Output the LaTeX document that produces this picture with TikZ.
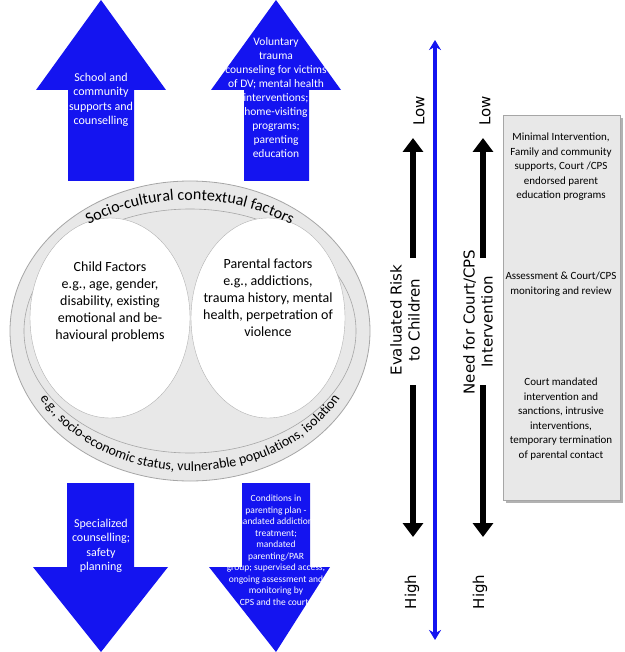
\documentclass[tikz,border=0pt]{standalone}
\usepackage{fontspec}
\setmainfont{Carlito}
\newfontfamily\dv{DejaVu Sans}
\usetikzlibrary{decorations.text,arrows.meta}
\definecolor{bl}{RGB}{20,20,240}
\begin{document}
\begin{tikzpicture}[x=1pt,y=-1pt,
  bigarrow/.style={fill=bl,draw=none},
  atext/.style={text=white,align=center,font=\fontsize{12}{14.5}\selectfont},
  stext/.style={text=white,align=center,font=\fontsize{9.5}{11.5}\selectfont},
  blk/.style={line width=6pt,-{Triangle[length=14pt,width=20pt]}},
  rt/.style={rotate=-90,font=\dv\fontsize{15}{18}\selectfont,align=center}]
\useasboundingbox (0,0) rectangle (624,652);
% up arrows
\fill[bigarrow] (101,0)--(166,90)--(134,90)--(134,181)--(68,181)--(68,90)--(36,90)--cycle;
\node[atext] (a1) at (101,100) {School and\\community\\supports and\\counselling};
\fill[bigarrow] (276,0)--(341,90)--(309,90)--(309,181)--(244,181)--(244,90)--(211,90)--cycle;
\node[atext,font=\fontsize{11.5}{14}\selectfont] (a2) at (276,98) {Voluntary\\trauma\\counseling for victims\\of DV; mental health\\interventions;\\home-visiting\\programs;\\parenting\\education};
% down arrows
\fill[bigarrow] (101,652)--(168,567)--(134,567)--(134,483)--(67,483)--(67,567)--(33,567)--cycle;
\node[atext] (a3) at (101,546) {Specialized\\counselling;\\safety\\planning};
\fill[bigarrow] (276,652)--(330,567)--(310,567)--(310,483)--(242,483)--(242,567)--(209,567)--cycle;
\node[stext] (a4) at (276,550) {Conditions in\\parenting plan -\\mandated addictions\\treatment;\\mandated\\parenting/PAR\\group; supervised access;\\ongoing assessment and\\monitoring by\\CPS and the courts};
% ellipses
\draw[gray!70,fill=gray!18,line width=0.8pt] (190,331) ellipse (180 and 150);
\draw[gray!70,fill=gray!18,line width=0.6pt] (190,331) ellipse (166 and 122);
\draw[gray!60,fill=white] (110,318) ellipse (80 and 100);
\draw[gray!60,fill=white] (268,318) ellipse (77 and 100);
\node[align=center,font=\fontsize{14}{17}\selectfont] (cf) at (110,302) {Child Factors\\e.g., age, gender,\\disability, existing\\emotional and be-\\havioural problems};
\node[align=center,font=\fontsize{14}{17}\selectfont] (pf) at (268,298) {Parental factors\\e.g., addictions,\\trauma history, mental\\health, perpetration of\\violence};
\path[decorate,decoration={text along path,text align=center,
  text={|\fontsize{16}{18}\selectfont|Socio-cultural contextual factors}}]
  (190,331) ++(205:172 and 131) arc[start angle=205,end angle=335,x radius=172,y radius=131];
\path[decorate,decoration={text along path,text align=center,
  text={|\fontsize{14}{16}\selectfont|e.g., socio-economic status, vulnerable populations, isolation}}]
  (190,331) ++(172:171 and 140) arc[start angle=172,end angle=8,x radius=171,y radius=140];
% right side
\draw[bl,line width=4pt,{Stealth[length=10pt,width=12pt]}-{Stealth[length=10pt,width=12pt]}] (435,40) -- (435,640);
\coordinate (l1a) at (413,258); \coordinate (l1b) at (413,138);
\coordinate (h1a) at (413,385); \coordinate (h1b) at (413,537);
\coordinate (l2a) at (483,258); \coordinate (l2b) at (483,138);
\coordinate (h2a) at (483,385); \coordinate (h2b) at (483,537);
\draw[blk] (l1a)--(l1b); \draw[blk] (h1a)--(h1b);
\draw[blk] (l2a)--(l2b); \draw[blk] (h2a)--(h2b);
\node[rt,rotate=180] (lo1) at (419,111) {Low};
\node[rt,rotate=180] (hi1) at (412,592) {High};
\node[rt,rotate=180] (lo2) at (485,111) {Low};
\node[rt,rotate=180] (hi2) at (480,592) {High};
\node[rt,rotate=180] (er) at (405,320) {Evaluated Risk\\to Children};
\node[rt,rotate=180] (nc) at (478,322) {Need for Court/CPS\\Intervention};
\fill[gray!60] (506,118) rectangle (623,503);
\draw[gray!70,fill=gray!18] (503,115) rectangle (620,500);
\node[align=center,font=\fontsize{11}{14.5}\selectfont] (b1) at (561,167) {Minimal Intervention,\\Family and community\\supports, Court /CPS\\endorsed parent\\education programs};
\node[align=center,font=\fontsize{11}{14.5}\selectfont] (b2) at (561,284) {Assessment \& Court/CPS\\monitoring and review};
\node[align=center,font=\fontsize{11}{14.5}\selectfont] (b3) at (561,419) {Court mandated\\intervention and\\sanctions, intrusive\\interventions,\\temporary termination\\of parental contact};
\end{tikzpicture}
\end{document}
